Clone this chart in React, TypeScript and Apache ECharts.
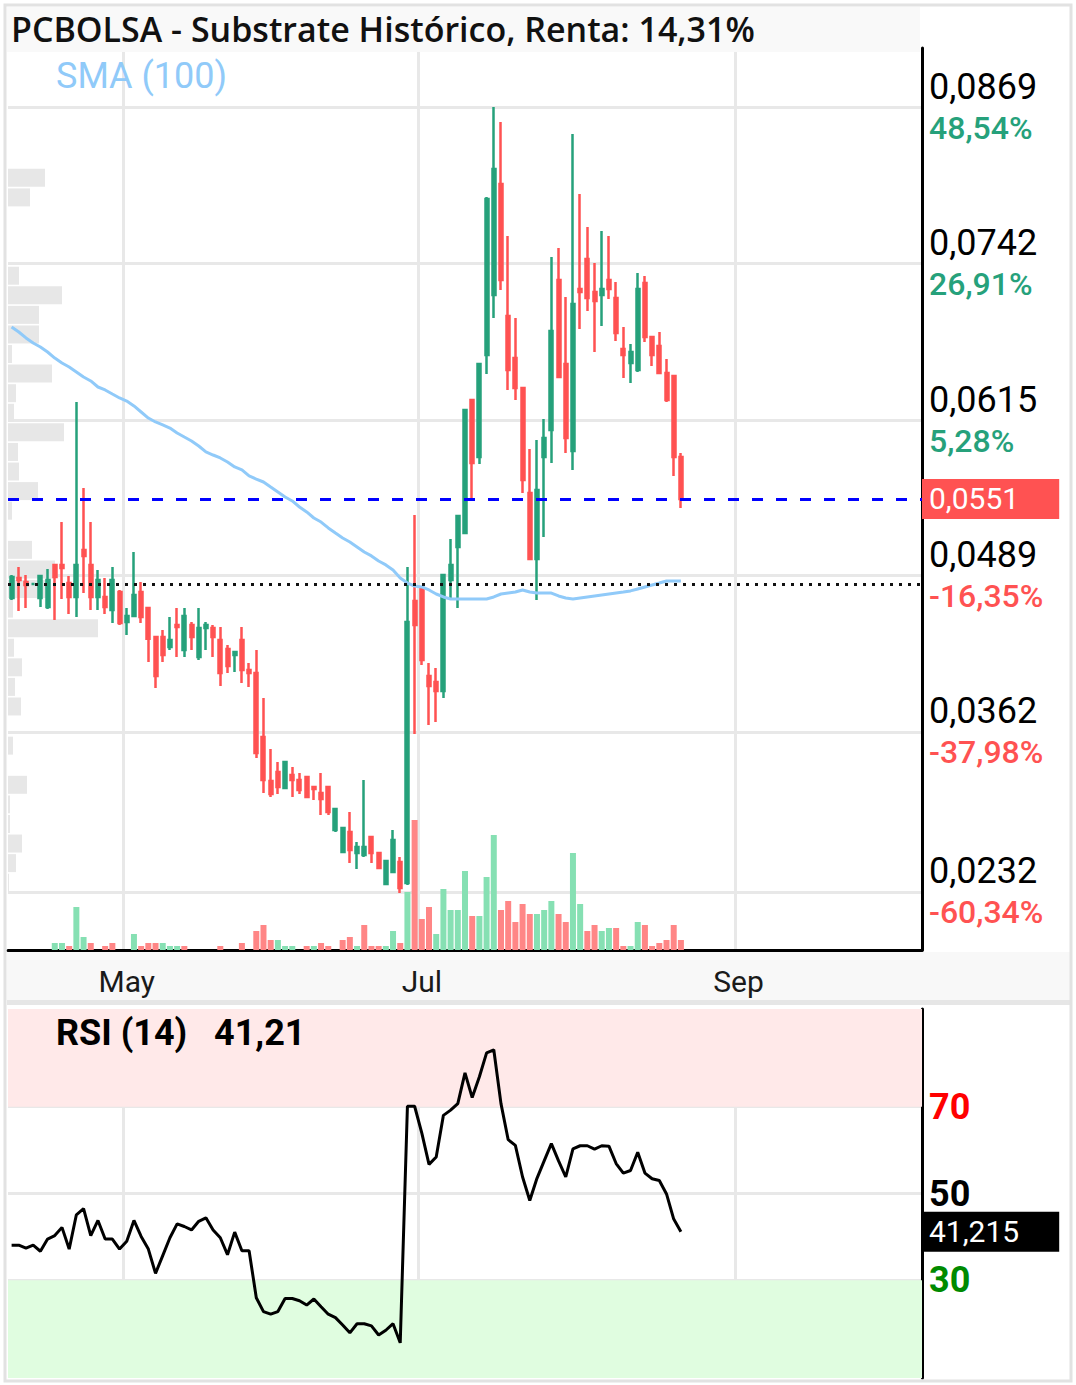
import React, { useEffect, useRef } from 'react';
import * as echarts from 'echarts';

// ---------------- data ----------------
const slotCount = 127; // trading-day slots on the time axis (data + future)
const monthLabels: { [k: number]: string } = { 16: 'May', 57: 'Jul', 101: 'Sep' };
const slots = Array.from({ length: slotCount }, (_, i) => 'D' + (i + 1));

const opens = [0.04706, 0.04868, 0.04836, 0.0482, 0.04706, 0.04633, 0.04974, 0.04974, 0.04827, 0.04714,
  0.05095, 0.04974, 0.04714, 0.04714, 0.04609, 0.04754, 0.04511, 0.04560, 0.04754, 0.04625,
  0.04390, 0.04390, 0.04308, 0.04487, 0.04284, 0.04487, 0.04227, 0.04463, 0.04463, 0.04365,
  0.04292, 0.04243, 0.04365, 0.04122, 0.04097, 0.03578, 0.03221, 0.03294, 0.03164, 0.03269,
  0.03229, 0.03253, 0.03172, 0.03123, 0.03172, 0.02823, 0.02645, 0.02807, 0.02636, 0.02620,
  0.02766, 0.02636, 0.02385, 0.02482, 0.02563, 0.02393, 0.04681, 0.04787, 0.04073, 0.04024,
  0.03951, 0.04852, 0.05120, 0.05233, 0.06313, 0.05850, 0.06678, 0.07165, 0.08065, 0.06995,
  0.06653, 0.06410, 0.05558, 0.05022, 0.05850, 0.06069, 0.07286, 0.06605, 0.05899, 0.07213,
  0.07457, 0.07189, 0.07165, 0.07286, 0.07140, 0.06726, 0.06613, 0.06556, 0.07262, 0.06824,
  0.06751, 0.06532, 0.06507, 0.05850];
const closes = [0.04876, 0.04852, 0.04811, 0.0482, 0.04884, 0.04852, 0.04876, 0.04949, 0.04714, 0.04974,
  0.05047, 0.04714, 0.04852, 0.04633, 0.04852, 0.04503, 0.04560, 0.04730, 0.04552, 0.04374,
  0.04073, 0.04243, 0.04365, 0.04471, 0.04560, 0.04390, 0.04463, 0.04487, 0.04390, 0.04097,
  0.04154, 0.04268, 0.04122, 0.04097, 0.03448, 0.03229, 0.03115, 0.03172, 0.03375, 0.03229,
  0.03148, 0.03091, 0.03156, 0.03075, 0.02969, 0.02994, 0.02839, 0.02661, 0.02685, 0.02685,
  0.02636, 0.02515, 0.02571, 0.02742, 0.02352, 0.04511, 0.04487, 0.04203, 0.03992, 0.03951,
  0.04892, 0.04974, 0.05371, 0.06232, 0.05801, 0.06605, 0.07944, 0.08187, 0.07286, 0.06556,
  0.06410, 0.05663, 0.05022, 0.05582, 0.06004, 0.06873, 0.06499, 0.06004, 0.07092, 0.07189,
  0.07140, 0.07116, 0.07213, 0.07213, 0.06856, 0.06678, 0.06702, 0.07213, 0.06824, 0.06678,
  0.06532, 0.06313, 0.05850, 0.05510];
const lows = [0.04690, 0.04600, 0.04625, 0.0482, 0.04633, 0.04617, 0.04527, 0.04698, 0.04576, 0.04552,
  0.04746, 0.04609, 0.04609, 0.04576, 0.04503, 0.04487, 0.04406, 0.04552, 0.04503, 0.04187,
  0.03976, 0.04187, 0.04284, 0.04227, 0.04227, 0.04284, 0.04203, 0.04284, 0.04227, 0.03992,
  0.04097, 0.04106, 0.04016, 0.03984, 0.03407, 0.03123, 0.03091, 0.03115, 0.03164, 0.03091,
  0.03115, 0.03091, 0.03066, 0.02945, 0.02945, 0.02807, 0.02645, 0.02555, 0.02507, 0.02604,
  0.02555, 0.02507, 0.02385, 0.02482, 0.02312, 0.02377, 0.03602, 0.04162, 0.03675, 0.03699,
  0.03894, 0.04698, 0.04625, 0.05233, 0.05501, 0.05793, 0.06523, 0.06978, 0.07205, 0.06394,
  0.06313, 0.05558, 0.05014, 0.04690, 0.05201, 0.05801, 0.06499, 0.05883, 0.05745, 0.06889,
  0.07035, 0.06702, 0.06913, 0.07132, 0.06792, 0.06491, 0.06450, 0.06540, 0.06783, 0.06588,
  0.06523, 0.06296, 0.05696, 0.05436];
const highs = [0.04892, 0.04957, 0.04892, 0.0482, 0.04892, 0.04941, 0.04974, 0.05322, 0.04884, 0.06296,
  0.05598, 0.05322, 0.04933, 0.04868, 0.04957, 0.04771, 0.04625, 0.05079, 0.04836, 0.04625,
  0.04390, 0.04446, 0.04552, 0.04625, 0.04625, 0.04511, 0.04625, 0.04511, 0.04487, 0.04471,
  0.04325, 0.04276, 0.04471, 0.04179, 0.04284, 0.03894, 0.03480, 0.03375, 0.03375, 0.03334,
  0.03286, 0.03253, 0.03180, 0.03286, 0.03172, 0.02994, 0.02839, 0.02969, 0.02726, 0.03229,
  0.02766, 0.02636, 0.02571, 0.02823, 0.02604, 0.04957, 0.05379, 0.04787, 0.04179, 0.04138,
  0.04892, 0.05185, 0.05371, 0.06232, 0.06313, 0.06605, 0.07960, 0.08690, 0.08568, 0.07643,
  0.06978, 0.06418, 0.05915, 0.05988, 0.06159, 0.07473, 0.07546, 0.07148, 0.08471, 0.07984,
  0.07716, 0.07424, 0.07684, 0.07643, 0.07270, 0.06905, 0.06767, 0.07343, 0.07319, 0.06824,
  0.06864, 0.06645, 0.06507, 0.05883];

const volumes = [0, 0, 0, 0, 0, 0, 7, 7, 4, 43,
  13, 7, 0, 4, 7, 0, 0, 16, 4, 7,
  7, 7, 4, 4, 4, 0, 0, 0, 0, 4,
  0, 0, 7, 0, 19, 25, 10, 10, 4, 4,
  0, 4, 4, 7, 4, 0, 10, 13, 4, 25,
  4, 4, 4, 19, 7, 58, 130, 31, 43, 16,
  61, 40, 40, 79, 34, 34, 73, 115, 40, 49,
  28, 46, 36, 36, 40, 49, 36, 28, 97, 46,
  19, 25, 19, 22, 22, 4, 4, 28, 25, 4,
  7, 10, 25, 10];
const volumeUp = [1, 1, 1, 1, 1, 1, 1, 1, 0, 1,
  1, 0, 1, 0, 0, 0, 0, 1, 0, 0,
  0, 1, 1, 1, 0, 0, 0, 0, 0, 0,
  0, 0, 0, 0, 0, 0, 0, 1, 1, 1,
  0, 0, 1, 0, 0, 0, 0, 0, 1, 0,
  0, 0, 1, 1, 0, 1, 0, 0, 0, 1,
  1, 1, 1, 1, 0, 1, 1, 1, 0, 0,
  0, 0, 0, 1, 1, 1, 0, 0, 1, 1,
  0, 0, 1, 1, 0, 0, 1, 1, 0, 0,
  0, 0, 0, 0];

const sma100 = [0.06905, 0.06864, 0.06816, 0.06775, 0.06743, 0.06702, 0.06653, 0.06613, 0.06580, 0.06540,
  0.06499, 0.06467, 0.06418, 0.06394, 0.06361, 0.06329, 0.06304, 0.06264, 0.06215, 0.06166,
  0.06134, 0.06110, 0.06085, 0.06045, 0.06012, 0.05980, 0.05939, 0.05891, 0.05866, 0.05842,
  0.05809, 0.05769, 0.05745, 0.05696, 0.05671, 0.05647, 0.05606, 0.05566, 0.05525, 0.05493,
  0.05444, 0.05404, 0.05355, 0.05322, 0.05274, 0.05233, 0.05193, 0.05160, 0.05120, 0.05079,
  0.05047, 0.05006, 0.04974, 0.04933, 0.04868, 0.04827, 0.04803, 0.04795, 0.04771, 0.04738,
  0.04714, 0.04698, 0.04698, 0.04698, 0.04698, 0.04698, 0.04698, 0.04714, 0.04738, 0.04746,
  0.04754, 0.04771, 0.04754, 0.04746, 0.04746, 0.04746, 0.04722, 0.04706, 0.04698, 0.04706,
  0.04714, 0.04722, 0.04730, 0.04738, 0.04746, 0.04754, 0.04763, 0.04779, 0.04795, 0.04811,
  0.04827, 0.04844, 0.04844, 0.04844];

const rsi14 = [38.1, 38.1, 37.4, 38.1, 36.7, 39.5, 40.3, 42.2, 37.2, 45.1,
  46.5, 40.3, 43.8, 39.5, 39.5, 37.2, 39.0, 43.8, 40.1, 37.2,
  31.6, 35.7, 39.8, 43.0, 42.4, 41.6, 43.6, 44.4, 41.6, 39.8,
  35.9, 41.1, 36.8, 36.8, 26.0, 22.8, 22.2, 22.8, 25.8, 25.8,
  25.3, 24.3, 25.7, 23.9, 22.2, 21.4, 19.7, 17.9, 20.0, 20.0,
  19.5, 17.4, 18.5, 20.0, 15.6, 70.1, 70.1, 63.9, 56.7, 58.4,
  68.0, 69.2, 70.7, 77.8, 72.1, 76.9, 82.4, 83.1, 70.7, 62.4,
  61.1, 53.8, 48.4, 53.5, 57.5, 61.5, 57.5, 53.8, 60.3, 61.0,
  61.0, 60.2, 61.0, 60.9, 56.9, 54.7, 55.3, 59.5, 54.7, 53.4,
  53.0, 49.9, 44.1, 41.21];

const priceTicks = [0.0869, 0.0742, 0.0615, 0.0489, 0.0362, 0.0232];
const priceTickChange = ['48,54%', '26,91%', '5,28%', '-16,35%', '-37,98%', '-60,34%'];
const rsiTicks = [30, 50, 70];
const lastPrice = 0.0551;
const basePrice = 0.0482;
const lastRsi = 41.215;

const profileTop = 0.08195;
const profileStep = 0.001589;
const profileVolumes = [37, 22, 0, 0, 0, 11, 54, 31, 31, 4, 44, 8, 6, 56, 10, 11, 30, 4, 0, 24,
  47, 38, 5, 90, 6, 14, 7, 13, 0, 5, 0, 19, 2, 2, 14, 8, 1];

const titleText = 'PCBOLSA - Substrate Histórico, Renta: 14,31%';
const smaLegend = 'SMA (100)';
const rsiLegend = 'RSI (14)';

// ---------------- styling ----------------
const UP = '#26a17b';
const DOWN = '#ff5252';
const VOL_UP = '#86e0b3';
const VOL_DOWN = '#ff8686';
const GRID = '#e8e8e8';
const PRICE_MIN = 0.01849;
const PRICE_MAX = 0.09169;
const RSI_MIN = 7.5;
const RSI_MAX = 92.5;

const comma = (v: number, d: number) => v.toFixed(d).replace('.', ',');
const truncComma = (v: number, d: number) => {
  const f = Math.pow(10, d);
  return (Math.floor(v * f + 1e-9) / f).toFixed(d).replace('.', ',');
};
const isMonth = (i: number) => monthLabels[i] !== undefined;

export default function App() {
  const ref = useRef<HTMLDivElement>(null);

  useEffect(() => {
    document.body.style.margin = '0';
    const chart = echarts.init(ref.current!, undefined, { renderer: 'svg' });

    const candleData = opens.map((o, i) => [o, closes[i], lows[i], highs[i]]);
    const volData = volumes.map((v, i) => ({
      value: v,
      itemStyle: { color: volumeUp[i] ? VOL_UP : VOL_DOWN },
    }));
    const profileData = profileVolumes.map((v, k) => [v, profileTop - k * profileStep, profileTop - (k + 1) * profileStep]);

    const noLine = { show: false, onZero: false };

    const option: any = {
      animation: false,
      backgroundColor: '#ffffff',
      textStyle: { fontFamily: 'Roboto' },
      grid: [
        { left: 8, top: 48, width: 914, height: 902 },
        { left: 8, top: 48, width: 914, height: 902 },
        { left: 8, top: 1009, width: 914, height: 369 },
      ],
      xAxis: [
        {
          type: 'category', gridIndex: 0, data: slots, boundaryGap: true,
          axisLine: { show: true, onZero: false, lineStyle: { color: '#000', width: 3 } },
          axisTick: { show: false },
          axisLabel: {
            interval: (i: number) => isMonth(i),
            formatter: (_v: string, i: number) => monthLabels[i] || '',
            color: '#1a1a1a', fontSize: 30, margin: 16, fontFamily: 'Roboto',
          },
          splitLine: { show: true, interval: (i: number) => isMonth(i), lineStyle: { color: GRID, width: 3 } },
        },
        { type: 'category', gridIndex: 1, data: slots, boundaryGap: true, show: false, axisLine: noLine },
        { type: 'value', gridIndex: 0, min: 0, max: 914, show: false, position: 'top', axisLine: noLine, splitLine: { show: false } },
        {
          type: 'category', gridIndex: 2, data: slots, boundaryGap: true,
          axisLine: noLine, axisTick: { show: false }, axisLabel: { show: false },
          splitLine: { show: true, interval: (i: number) => isMonth(i), lineStyle: { color: GRID, width: 3 } },
        },
      ],
      yAxis: [
        {
          type: 'value', gridIndex: 0, position: 'right', min: PRICE_MIN, max: PRICE_MAX,
          axisLine: { show: true, onZero: false, lineStyle: { color: '#000', width: 3 } },
          axisTick: { show: false, customValues: priceTicks },
          axisLabel: {
            customValues: priceTicks, margin: 7,
            formatter: (v: number) => {
              const k = priceTicks.findIndex((t) => Math.abs(t - v) < 1e-7);
              if (k < 0) return '';
              const ch = priceTickChange[k];
              return '{p|' + comma(priceTicks[k], 4) + '}\n{' + (ch.startsWith('-') ? 'dn' : 'up') + '|' + ch + '}';
            },
            rich: {
              p: { fontSize: 36, color: '#000', fontFamily: 'Roboto', lineHeight: 41 },
              up: { fontSize: 32, color: UP, fontFamily: 'Roboto', fontWeight: 500, lineHeight: 41 },
              dn: { fontSize: 32, color: DOWN, fontFamily: 'Roboto', fontWeight: 500, lineHeight: 41 },
            },
          },
          splitLine: { show: true, lineStyle: { color: GRID, width: 3 } },
        },
        { type: 'value', gridIndex: 1, min: 0, max: 902, show: false, axisLine: noLine, splitLine: { show: false } },
        {
          type: 'value', gridIndex: 0, position: 'right', min: PRICE_MIN, max: PRICE_MAX,
          axisLine: noLine, axisTick: { show: false }, splitLine: { show: false },
          axisLabel: {
            customValues: [lastPrice], margin: 0,
            formatter: (v: number) => comma(v, 4),
            color: '#fff', backgroundColor: DOWN, fontSize: 30, lineHeight: 34,
            padding: [3, 40, 3, 7], fontFamily: 'Roboto',
          },
        },
        {
          type: 'value', gridIndex: 2, position: 'right', min: RSI_MIN, max: RSI_MAX,
          axisLine: { show: true, onZero: false, lineStyle: { color: '#000', width: 3 } },
          axisTick: { show: false, customValues: rsiTicks },
          axisLabel: {
            customValues: rsiTicks, margin: 7,
            formatter: (v: number) => (v >= 70 ? '{r|' : v <= 30 ? '{g|' : '{k|') + Math.round(v) + '}',
            rich: {
              r: { color: '#ff0000', fontWeight: 'bold', fontSize: 36, fontFamily: 'Roboto' },
              k: { color: '#000', fontWeight: 'bold', fontSize: 36, fontFamily: 'Roboto' },
              g: { color: '#008a00', fontWeight: 'bold', fontSize: 36, fontFamily: 'Roboto' },
            },
          },
          splitLine: { show: true, lineStyle: { color: GRID, width: 3 } },
        },
        {
          type: 'value', gridIndex: 2, position: 'right', min: RSI_MIN, max: RSI_MAX,
          axisLine: noLine, axisTick: { show: false }, splitLine: { show: false },
          axisLabel: {
            customValues: [lastRsi], margin: 0,
            formatter: (v: number) => comma(v, 3),
            color: '#fff', backgroundColor: '#000', fontSize: 30, lineHeight: 34,
            padding: [3, 40, 3, 7], fontFamily: 'Roboto',
          },
        },
      ],
      series: [
        {
          type: 'custom', name: 'profile', xAxisIndex: 2, yAxisIndex: 0, z: 1, silent: true,
          data: profileData,
          renderItem: (_p: any, api: any) => {
            const a = api.coord([0, api.value(1)]);
            const b = api.coord([api.value(0), api.value(2)]);
            return {
              type: 'rect',
              shape: { x: a[0], y: a[1] + 0.8, width: b[0] - a[0], height: b[1] - a[1] - 1.6 },
              style: { fill: '#e7e7e7' },
            };
          },
        },
        {
          type: 'bar', name: 'volume', xAxisIndex: 1, yAxisIndex: 1, z: 2, silent: true,
          barWidth: 6, data: volData,
        },
        {
          type: 'candlestick', name: 'price', xAxisIndex: 0, yAxisIndex: 0, z: 3, silent: true,
          barWidth: 3.5, data: candleData,
          itemStyle: { color: UP, color0: DOWN, borderColor: UP, borderColor0: DOWN, borderWidth: 2.5 },
        },
        {
          type: 'line', name: 'sma', xAxisIndex: 0, yAxisIndex: 0, z: 4, silent: true,
          data: sma100, symbol: 'none', lineStyle: { color: '#90caf9', width: 3 },
          markLine: {
            silent: true, symbol: ['none', 'none'], label: { show: false }, precision: 8,
            data: [
              { yAxis: lastPrice, lineStyle: { color: '#0000ff', width: 3, type: [11, 13] } },
              { yAxis: basePrice, lineStyle: { color: '#111', width: 3, type: [3, 6] } },
            ],
          },
        },
        {
          type: 'line', name: 'zones', xAxisIndex: 3, yAxisIndex: 3, z: -1, silent: true,
          data: rsi14, symbol: 'none', lineStyle: { opacity: 0 },
          markArea: {
            silent: true,
            data: [
              [{ yAxis: 70, itemStyle: { color: '#ffe9e9' } }, { yAxis: RSI_MAX }],
              [{ yAxis: RSI_MIN, itemStyle: { color: '#e0fde0' } }, { yAxis: 30 }],
            ],
          },
        },
        {
          type: 'line', name: 'rsi', xAxisIndex: 3, yAxisIndex: 3, z: 4, silent: true,
          data: rsi14, symbol: 'none', lineStyle: { color: '#000', width: 3 },
        },
      ],
      graphic: [
        { type: 'rect', z: -10, silent: true, shape: { x: 7, y: 952, width: 1064, height: 48 }, style: { fill: '#f8f8f8' } },
        { type: 'rect', z: -10, silent: true, shape: { x: 7, y: 1000, width: 1064, height: 5 }, style: { fill: '#e6e6e6' } },
        { type: 'rect', z: 50, silent: true, shape: { x: 7, y: 7, width: 913, height: 45 }, style: { fill: '#f9f9f9' } },
        {
          type: 'text', z: 51, silent: true, x: 11, y: 29,
          style: { text: titleText, fill: '#111', fontSize: 34, fontWeight: 600, fontFamily: 'Open Sans', verticalAlign: 'middle' },
        },
        {
          type: 'text', z: 51, silent: true, x: 56, y: 76,
          style: { text: smaLegend, fill: '#90caf9', fontSize: 36, fontFamily: 'Roboto', verticalAlign: 'middle' },
        },
        {
          type: 'text', z: 51, silent: true, x: 56, y: 1033,
          style: { text: rsiLegend, fill: '#000', fontSize: 36, fontWeight: 'bold', fontFamily: 'Roboto', verticalAlign: 'middle' },
        },
        {
          type: 'text', z: 51, silent: true, x: 214, y: 1033,
          style: { text: truncComma(lastRsi, 2), fill: '#000', fontSize: 36, fontWeight: 'bold', fontFamily: 'Roboto', verticalAlign: 'middle' },
        },
        {
          type: 'rect', z: 100, silent: true, shape: { x: 5, y: 5, width: 1066, height: 1376 },
          style: { fill: 'none', stroke: '#e2e2e2', lineWidth: 3 },
        },
      ],
    };

    chart.setOption(option);
    return () => chart.dispose();
  }, []);

  return <div ref={ref} style={{ width: 1076, height: 1385 }} />;
}
